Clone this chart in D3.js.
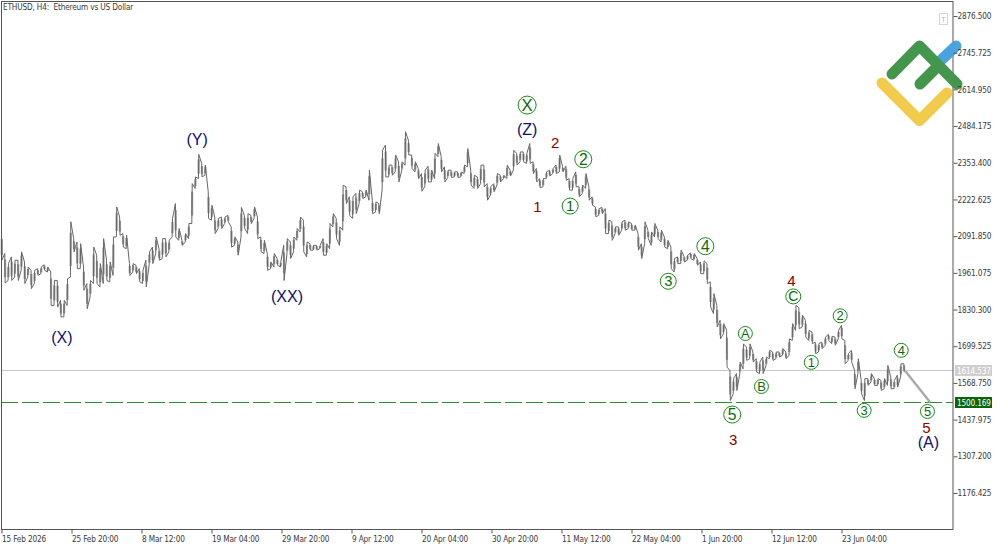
<!DOCTYPE html>
<html>
<head>
<meta charset="utf-8">
<script src="https://cdn.jsdelivr.net/npm/d3@7/dist/d3.min.js"></script>
<style>
html,body{margin:0;padding:0;background:#fff}
svg{display:block}
text{font-family:"Liberation Sans",Arial,sans-serif}
.tick text,.caption{font-family:"DejaVu Sans Condensed","DejaVu Sans",sans-serif;font-size:8.2px;letter-spacing:-.16px;fill:#3a3a3a}
</style>
</head>
<body>
<svg id="chart" width="1000" height="545"></svg>
<script>
// ETHUSD H4 price ranges, one high/low pair for every 12 hours from 15 Feb 2026 04:00 UTC
const highs = [
2101,2030,1994,2018,2006,2006,2036,2000,1982,1970,1970,1976,1982,1990,1982,1964,1934,1934,1863,1863,
1940,2143,2083,2071,2065,1982,1923,1934,2053,2024,1994,2083,2006,2000,2089,2196,2160,2101,2095,1994,
1994,1988,1976,1970,2006,2036,2053,2089,2047,2083,2083,2077,2155,2208,2119,2077,2101,2137,2279,2303,
2383,2351,2345,2250,2202,2160,2155,2160,2160,2166,2125,2089,2071,2194,2166,2172,2166,2196,2160,2089,
2077,2030,2000,2030,2012,2000,2059,2083,2071,2089,2119,2160,2149,2071,2065,2059,2059,2059,2083,2065,
2137,2172,2155,2125,2273,2268,2232,2232,2244,2256,2250,2256,2327,2220,2214,2208,2398,2416,2345,2345,
2381,2357,2357,2464,2434,2381,2357,2333,2315,2327,2341,2327,2387,2422,2375,2339,2327,2327,2321,2321,
2321,2345,2404,2327,2309,2303,2345,2345,2279,2268,2279,2315,2309,2309,2345,2327,2398,2387,2392,2392,
2387,2422,2357,2333,2297,2297,2321,2327,2333,2345,2381,2339,2341,2297,2297,2321,2268,2274,2315,2268,
2232,2196,2190,2194,2190,2149,2143,2125,2125,2143,2149,2143,2137,2131,2101,2065,2143,2113,2107,2137,
2113,2113,2089,2077,2053,2012,2018,2042,2020,2024,2032,2030,2012,2000,2004,1994,1929,1887,1845,1792,
1780,1756,1613,1584,1602,1643,1708,1697,1708,1679,1655,1643,1661,1661,1685,1679,1679,1679,1691,1679,
1726,1780,1845,1837,1810,1792,1756,1750,1714,1709,1714,1732,1742,1735,1732,1756,1774,1720,1673,1685,
1613,1655,1578,1584,1584,1602,1584,1584,1578,1584,1631,1590,1578,1596,1637,1637
];
const lows = [
2006,1925,1934,1934,1946,1934,1970,1923,1946,1905,1923,1952,1958,1970,1964,1845,1845,1839,1804,1804,
1845,1946,2036,1976,1976,1899,1833,1875,1923,1923,1911,1923,1934,1929,1952,2089,2095,2053,2047,1952,
1964,1958,1929,1923,1911,1988,1994,2030,2006,2012,2018,2036,2089,2089,2077,2059,2071,2083,2137,2262,
2297,2303,2309,2155,2149,2101,2119,2119,2137,2143,2053,2059,2024,2089,2119,2101,2137,2155,2083,2036,
2030,1970,1976,1982,1988,1982,1934,2030,2012,2036,2077,2107,2036,2018,2042,2042,2042,2047,2024,2024,
2047,2125,2083,2059,2113,2208,2166,2155,2172,2208,2226,2232,2220,2172,2178,2172,2256,2303,2303,2309,
2321,2285,2327,2345,2381,2333,2321,2297,2252,2268,2285,2285,2297,2375,2321,2285,2301,2301,2303,2301,
2303,2315,2339,2274,2262,2262,2279,2268,2220,2238,2250,2274,2285,2297,2297,2306,2327,2345,2357,2357,
2351,2351,2315,2285,2265,2268,2297,2306,2315,2315,2321,2321,2291,2256,2256,2268,2232,2244,2262,2220,
2202,2161,2166,2172,2101,2101,2077,2101,2095,2113,2113,2119,2113,2113,2042,2012,2065,2083,2059,2089,
2083,2071,2053,2047,1976,1964,1994,1994,2000,2006,2012,2006,1988,1958,1958,1923,1839,1816,1768,1726,
1744,1625,1506,1530,1542,1602,1619,1649,1655,1643,1608,1602,1602,1631,1655,1649,1655,1661,1667,1655,
1667,1720,1756,1762,1768,1732,1720,1709,1673,1679,1691,1703,1720,1709,1703,1726,1726,1637,1649,1643,
1548,1602,1530,1506,1560,1572,1560,1560,1542,1548,1560,1548,1548,1554,1590,1607
];
const priceTicks = [2876.5,2745.725,2614.95,2484.175,2353.4,2222.625,2091.85,1961.075,1830.3,1699.525,1568.75,1437.975,1307.2,1176.425];
const dateTicks = ["2026-02-15T04:00Z","2026-02-25T20:00Z","2026-03-08T12:00Z","2026-03-19T04:00Z","2026-03-29T20:00Z","2026-04-09T12:00Z","2026-04-20T04:00Z","2026-04-30T20:00Z","2026-05-11T12:00Z","2026-05-22T04:00Z","2026-06-01T20:00Z","2026-06-12T12:00Z","2026-06-23T04:00Z"];
const bidPrice = 1614.537;
const targetPrice = 1500.169;
const forecastColumns = [275.5, 283];
const forecastPrices = [1610, targetPrice];

// Wave labels: text, column, price, colour key, size key
const plainLabels = [
["(X)",18.4,1731,"navy",16],["(Y)",59.6,2438,"navy",16],["(XX)",87,1877,"navy",16],["(Z)",160.2,2473,"navy",16],
["(A)",282.5,1356,"navy",16],["2",168.7,2427,"red",15],["1",163.3,2199,"red",15],["3",223,1367,"red",15],
["4",240.7,1934,"red",15],["5",281.9,1410,"red",15]
];
const circledLabels = [
["X",160.2,2559,9],["1",173.3,2199,8],["2",177.3,2366,8.5],["3",203.2,1931,8],["4",214.5,2056,8.5],["5",222.7,1456,8.5],
["A",226.7,1745,7],["B",231.6,1556,7],["C",241.3,1877,7.5],["1",246.8,1642,7],["2",255.6,1808,7],["3",262.9,1471,7],
["4",274.2,1685,7],["5",282.2,1467,7]
];
const labelColours = {navy:"#10106e", red:"#8b0000"};

const hour = 3600e3;
const t0 = new Date(dateTicks[0]).getTime();
const dates = dateTicks.map(d => new Date(d));
const colDate = c => new Date(t0 + c * 12 * hour);

const x = d3.scaleTime().domain([dates[0], dates[12]]).range([1.5, 841.5]);
const y = d3.scaleLinear().domain([2876.5, 1176.425]).range([16, 493]);

const svg = d3.select("#chart");
const plotRight = 953, plotTop = 1, plotBottom = 529;

// Horizontal reference levels
svg.append("line").attr("x1",1).attr("x2",plotRight).attr("y1",Math.round(y(bidPrice))+.5).attr("y2",Math.round(y(bidPrice))+.5)
  .attr("stroke","#c8c8c8");
svg.append("line").attr("x1",1).attr("x2",plotRight).attr("y1",Math.round(y(targetPrice))+.5).attr("y2",Math.round(y(targetPrice))+.5)
  .attr("stroke","#2e8b2e").attr("stroke-dasharray","17 4");

// Lighter candle bodies sit under the darker wick trace
const bodyTop = d => d.h - (d.h - d.l) * .2;
const bodyBottom = d => d.l + (d.h - d.l) * .2;
const cols = highs.map((h,i)=>({i,h,l:lows[i]}));
svg.append("g").selectAll("rect").data(cols).join("rect")
  .attr("x",d=>x(colDate(d.i))-.8).attr("width",2.2)
  .attr("y",d=>y(bodyTop(d))).attr("height",d=>y(bodyBottom(d))-y(bodyTop(d)))
  .attr("fill","#9c9c9c");

// Wick trace: visit each column's high and low, entering at the nearer end
const trace = [];
let last = highs[0];
cols.forEach(d=>{
  const first = Math.abs(d.h-last) < Math.abs(d.l-last) ? d.h : d.l;
  const second = first===d.h ? d.l : d.h;
  trace.push([d.i,first],[d.i+.12,second]);
  last = second;
});
svg.append("path").attr("fill","none").attr("stroke","#666").attr("stroke-width",1)
  .attr("d",d3.line().x(d=>x(colDate(d[0]))).y(d=>y(d[1]))(trace));

// Projected final leg
svg.append("path").attr("fill","none").attr("stroke","#a8a8a8").attr("stroke-width",2.4)
  .attr("d",d3.line().x((d,i)=>x(colDate(d))).y((d,i)=>y(forecastPrices[i]))(forecastColumns));

// Plot frame
svg.append("rect").attr("x",1.5).attr("y",plotTop+.5).attr("width",plotRight-1.5).attr("height",plotBottom-plotTop)
  .attr("fill","none").attr("stroke","#555");

// Plain wave labels
svg.append("g").selectAll("text").data(plainLabels).join("text")
  .attr("x",d=>x(colDate(d[1]))).attr("y",d=>y(d[2]))
  .attr("text-anchor","middle").attr("dominant-baseline","central")
  .attr("font-size",d=>d[4]).attr("fill",d=>labelColours[d[3]]).text(d=>d[0]);

// Circled wave labels
const circ = svg.append("g").selectAll("g").data(circledLabels).join("g")
  .attr("transform",d=>`translate(${x(colDate(d[1]))},${y(d[2])})`);
circ.append("circle").attr("r",d=>d[3]).attr("fill","#fff").attr("stroke","#1a8a1a").attr("stroke-width",1);
circ.append("text").attr("text-anchor","middle").attr("dominant-baseline","central")
  .attr("font-size",d=>d[3]*1.85).attr("fill","#0b6b0b").text(d=>d[0]);

// Brand mark drawn with rounded strokes over the frame
const markLine = d3.line();
const mark = svg.append("g").attr("fill","none").attr("stroke-width",11).attr("stroke-linecap","round").attr("stroke-linejoin","round");
mark.append("path").attr("stroke","#f2cb4c").attr("d",markLine([[882,83],[919.5,120.5],[947,93]]));
mark.append("path").attr("stroke","#4aa3df").attr("d",markLine([[938,63],[956,46]]));
mark.append("path").attr("stroke","#43964b").attr("d",markLine([[892,74],[919.5,46],[957,84]]));
mark.append("path").attr("stroke","#43964b").attr("d",markLine([[920,84],[938,66]]));

// Small chart-trading tag in the corner
svg.append("rect").attr("x",939.5).attr("y",13.5).attr("width",8).attr("height",11).attr("fill","#fff").attr("stroke","#d5d5d5");
svg.append("text").attr("x",943.5).attr("y",22).attr("text-anchor","middle").attr("font-size",8).attr("fill","#bbb").text("T");

// Axes
const priceAxis = svg.append("g").attr("transform",`translate(${plotRight}.5,0)`)
  .call(d3.axisRight(y).tickValues(priceTicks).tickSize(4).tickPadding(0).tickFormat(d3.format(".3f")));
const dateFmt = d3.utcFormat("%-d %b %H:%M");
const dateAxis = svg.append("g").attr("transform",`translate(0,${plotBottom}.5)`)
  .call(d3.axisBottom(x).tickValues(dates).tickSize(4).tickPadding(0)
    .tickFormat((d,i)=> i===0 ? "15 Feb 2026" : dateFmt(d)));
[priceAxis,dateAxis].forEach(a=>{a.select(".domain").remove();a.selectAll("line").attr("stroke","#555");});
dateAxis.selectAll("text").attr("text-anchor","start").attr("dy","1.0em");

// Price tags on the right-hand scale
[[bidPrice,"#cfcfcf"],[targetPrice,"#0a640a"]].forEach(([p,bg])=>{
  const py = Math.round(y(p));
  svg.append("rect").attr("x",955).attr("y",py-5).attr("width",37).attr("height",11).attr("fill",bg);
  svg.append("text").attr("class","caption").attr("x",957).attr("y",py+3.5).style("fill","#fff").text(d3.format(".3f")(p));
});

svg.append("text").attr("class","caption").attr("x",3).attr("y",10).style("white-space","pre").text("ETHUSD, H4:  Ethereum vs US Dollar");
</script>
</body>
</html>
